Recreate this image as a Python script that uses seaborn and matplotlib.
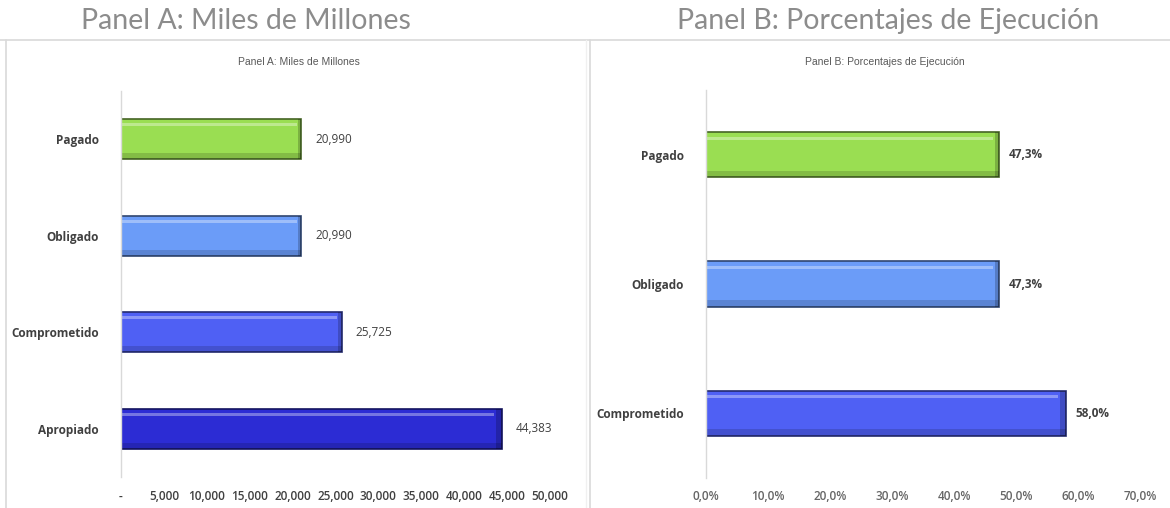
import matplotlib
matplotlib.use("Agg")
import matplotlib.pyplot as plt
import seaborn as sns
import pandas as pd
from matplotlib.patches import Rectangle

# datos panel A (miles de millones)
cats_a = ["Pagado", "Obligado", "Comprometido", "Apropiado"]
vals_a = [20990, 20990, 25725, 44383]
cols_a = ["#9ade52", "#6b9cf8", "#4f60f4", "#2c2cd4"]
ticks_a = [0, 5000, 10000, 15000, 20000, 25000, 30000, 35000, 40000, 45000, 50000]

# datos panel B (porcentajes de ejecucion)
cats_b = ["Pagado", "Obligado", "Comprometido"]
vals_b = [47.3, 47.3, 58.0]
cols_b = ["#9ade52", "#6b9cf8", "#4f60f4"]
ticks_b = [0, 10, 20, 30, 40, 50, 60, 70]

sns.set_style("white")
plt.rcParams["font.family"] = ["Liberation Sans", "DejaVu Sans"]

W, H = 1170, 508
fig = plt.figure(figsize=(W / 100, H / 100), dpi=100)

# marcos de los dos paneles
line_c = "#d9d9d9"
fig.add_artist(plt.Line2D([0, 1], [1 - 40 / H] * 2, color=line_c, lw=1.2, transform=fig.transFigure))
fig.add_artist(plt.Line2D([6 / W] * 2, [0, 1 - 40 / H], color=line_c, lw=1.2, transform=fig.transFigure))
fig.add_artist(plt.Line2D([586 / W] * 2, [0, 1 - 40 / H], color="#f0f0f0", lw=1, transform=fig.transFigure))
fig.add_artist(plt.Line2D([590 / W] * 2, [0, 1 - 40 / H], color=line_c, lw=1.2, transform=fig.transFigure))

# titulos grandes
fig.text(246 / W, 1 - 21 / H, "Panel A: Miles de Millones", ha="center", va="center",
         fontsize=20.5, color="#8c8c8c", family="Lato")
fig.text(888 / W, 1 - 21 / H, "Panel B: Porcentajes de Ejecución", ha="center", va="center",
         fontsize=20.5, color="#8c8c8c", family="Lato")

# titulos pequeños
fig.text(299 / W, 1 - 62 / H, "Panel A: Miles de Millones", ha="center", va="center",
         fontsize=7.5, color="#595959")
fig.text(885 / W, 1 - 62 / H, "Panel B: Porcentajes de Ejecución", ha="center", va="center",
         fontsize=7.5, color="#595959")

ax_a = fig.add_axes([121 / W, 1 - 477 / H, (550 - 121) / W, (477 - 91) / H])
ax_b = fig.add_axes([706 / W, 1 - 478 / H, (1140 - 706) / W, (478 - 90) / H])

df_a = pd.DataFrame({"cat": cats_a, "val": vals_a})
df_b = pd.DataFrame({"cat": cats_b, "val": vals_b})

sns.barplot(data=df_a, y="cat", x="val", hue="cat", palette=cols_a, orient="h",
            width=0.41, saturation=1, legend=False, ax=ax_a)
sns.barplot(data=df_b, y="cat", x="val", hue="cat", palette=cols_b, orient="h",
            width=0.35, saturation=1, legend=False, ax=ax_b)


def bevel(ax):
    # efecto de bisel sencillo: borde oscuro, brillo arriba, sombra abajo
    for p in list(ax.patches):
        fc = p.get_facecolor()
        dark = tuple(c * 0.45 for c in fc[:3])
        p.set_edgecolor(dark)
        p.set_linewidth(1.2)
        x0, y0 = p.get_x(), p.get_y()
        w, h = p.get_width(), p.get_height()
        ax.add_patch(Rectangle((x0, y0 + h * 0.1), w * 0.98, h * 0.07,
                               facecolor="white", alpha=0.35, lw=0))
        ax.add_patch(Rectangle((x0, y0 + h * 0.85), w, h * 0.15,
                               facecolor="black", alpha=0.15, lw=0))
        ax.add_patch(Rectangle((x0 + w * 0.985, y0), w * 0.015, h,
                               facecolor="black", alpha=0.2, lw=0))


bevel(ax_a)
bevel(ax_b)

for ax in (ax_a, ax_b):
    sns.despine(ax=ax, top=True, right=True, bottom=True, left=False)
    ax.spines["left"].set_color(line_c)
    ax.spines["left"].set_linewidth(1)
    ax.set_xlabel("")
    ax.set_ylabel("")
    ax.tick_params(axis="both", length=0)
    ax.tick_params(axis="y", pad=16)
    ax.tick_params(axis="x", pad=9)
    for lab in ax.get_yticklabels():
        lab.set_family("Open Sans")
        lab.set_fontweight("bold")
        lab.set_fontsize(8.5)
        lab.set_color("#404040")

ax_a.set_xlim(0, 50000)
ax_a.set_xticks(ticks_a)
ax_a.set_xticklabels(["-" if t == 0 else f"{t:,}" for t in ticks_a],
                     fontsize=8.5, color="#404040", family="Open Sans", fontweight="semibold")
for i, v in enumerate(vals_a):
    ax_a.text(v + 1650, i, f"{v:,}", va="center", ha="left", fontsize=8.5,
              color="#404040", family="Open Sans")

ax_b.set_xlim(0, 70)
ax_b.set_xticks(ticks_b)
ax_b.set_xticklabels([f"{t:.1f}%".replace(".", ",") for t in ticks_b],
                     fontsize=8.5, color="#666666", family="Open Sans", fontweight="semibold")
for i, v in enumerate(vals_b):
    ax_b.text(v + 1.6, i, f"{v:.1f}%".replace(".", ","), va="center", ha="left", fontsize=8.5,
              color="#404040", family="Open Sans", fontweight="bold")

fig.savefig("out.png", dpi=100, facecolor="white")
